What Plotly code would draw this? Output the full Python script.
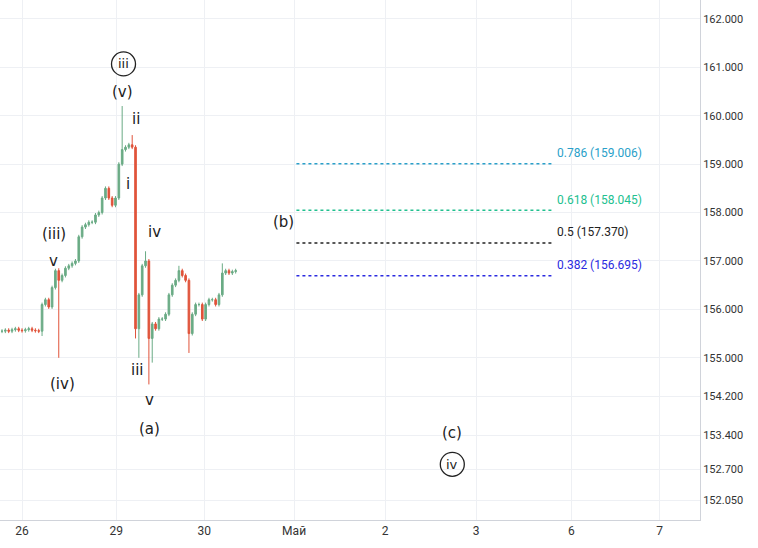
import plotly.graph_objects as go

closes = [155.55,155.57,155.55,155.58,155.60,155.57,155.56,155.58,155.60,155.57,155.56,155.55,
          156.10,156.20,156.05,156.45,156.80,156.60,156.70,156.85,156.90,156.95,157.00,157.50,
          157.70,157.75,157.80,157.80,157.95,158.00,158.30,158.50,158.30,158.15,158.30,159.00,
          159.30,159.35,159.40,159.35,155.60,156.30,156.90,157.00,155.40,155.70,155.60,155.80,
          155.80,155.90,156.30,156.50,156.60,156.80,156.70,156.60,155.50,155.90,156.10,156.10,
          155.80,156.10,156.20,156.20,156.10,156.30,156.75,156.80,156.75,156.78,156.80]
first_open = 155.55
wick_high = {17: 156.85, 36: 160.2, 39: 159.6, 43: 157.2, 53: 156.9, 66: 156.95}
wick_low = {12: 155.45, 17: 155.0, 40: 155.4, 41: 155.0, 44: 154.45, 45: 154.9, 56: 155.1}

date_labels = ["26", "29", "30", "Май", "2", "3", "6", "7"]
date_pos = [6, 34.2, 60.6, 87.5, 114.8, 142, 170.6, 197]

y_ticks = [162.0, 161.0, 160.0, 159.0, 158.0, 157.0, 156.0, 155.0, 154.2, 153.4, 152.7, 152.05]

fib_levels = [0.786, 0.618, 0.5, 0.382]
fib_prices = [159.006, 158.045, 157.370, 156.695]
fib_colors = ["#2a9fc9", "#22c08f", "#222222", "#2a2ae0"]
fib_x = [88.2, 165.0]

wave_labels = [("(iii)", 15.5, 157.55), ("v", 15.5, 157.0), ("(iv)", 18.2, 154.45),
               ("(v)", 36.2, 160.48), ("ii", 40.2, 159.93), ("i", 37.7, 158.6),
               ("iv", 45.7, 157.6), ("iii", 40.5, 154.75), ("v", 44.2, 154.12),
               ("(a)", 44.2, 153.52), ("(b)", 84.2, 157.8), ("(c)", 134.9, 153.45)]
circled = [("iii", 36.4, 161.07), ("iv", 134.9, 152.8)]

n = len(closes)
x = list(range(n))
opens = [first_open] + closes[:-1]
highs = [wick_high.get(i, max(o, c) + 0.04) for i, (o, c) in enumerate(zip(opens, closes))]
lows = [wick_low.get(i, min(o, c) - 0.04) for i, (o, c) in enumerate(zip(opens, closes))]

fig = go.Figure()
fig.add_trace(go.Candlestick(x=x, open=opens, high=highs, low=lows, close=closes,
                             increasing=dict(line=dict(color="#6aab85", width=1), fillcolor="#6aab85"),
                             decreasing=dict(line=dict(color="#e0533a", width=1), fillcolor="#e0533a"),
                             whiskerwidth=0, showlegend=False))

for lvl, p, col in zip(fib_levels, fib_prices, fib_colors):
    fig.add_trace(go.Scatter(x=fib_x, y=[p, p], mode="lines",
                             line=dict(color=col, width=1.5, dash="dot"), showlegend=False, hoverinfo="skip"))
    fig.add_annotation(x=165.6, y=p + 0.22, text=f"{lvl} ({p:.3f})", showarrow=False,
                       xanchor="left", font=dict(color=col, size=12, family="Roboto"))

for t, xx, yy in wave_labels:
    fig.add_annotation(x=xx, y=yy, text=t, showarrow=False, font=dict(size=15, color="#222", family="DejaVu Sans"))
for t, xx, yy in circled:
    fig.add_annotation(x=xx, y=yy, text=t, showarrow=False, font=dict(size=13, color="#222", family="DejaVu Sans"))
fig.add_trace(go.Scatter(x=[c[1] for c in circled], y=[c[2] for c in circled], mode="markers",
                         marker=dict(symbol="circle-open", size=24, color="#222", line=dict(width=1.3)),
                         showlegend=False, hoverinfo="skip"))

fig.update_layout(width=758, height=548, margin=dict(l=0, r=58, t=0, b=28, pad=0, autoexpand=False),
                  plot_bgcolor="white", paper_bgcolor="white",
                  font=dict(family="Roboto", size=12, color="#333"))
fig.update_xaxes(range=[-0.6, 209.1], tickvals=date_pos, ticktext=date_labels, showgrid=True,
                 gridcolor="#eef0f4", rangeslider_visible=False, zeroline=False,
                 showline=True, linecolor="#d0d3da", ticks="")
fig.update_yaxes(range=[151.65, 162.39], side="right", tickvals=y_ticks,
                 ticktext=[f"{v:.3f}" for v in y_ticks], showgrid=True, gridcolor="#eef0f4",
                 zeroline=False, showline=True, linecolor="#d0d3da", ticks="",
                 tickfont=dict(size=11))
fig.write_html("out.html", config={"displayModeBar": False},
               post_script="document.body.style.margin='0';")
